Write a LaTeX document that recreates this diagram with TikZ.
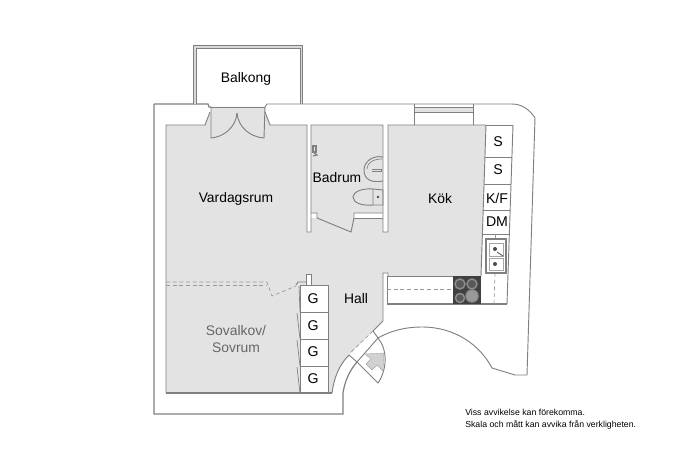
\documentclass[tikz,border=0pt]{standalone}
\usepackage{fontspec}
\setmainfont{Liberation Sans}
\definecolor{floor}{HTML}{E3E3E3}
\definecolor{wall}{HTML}{808080}
\definecolor{band}{HTML}{D8D8D8}
\tikzset{
  wl/.style={draw=wall,line width=0.7pt},
  thin wl/.style={draw=wall,line width=0.5pt},
  dash wl/.style={draw=wall!80,line width=0.5pt,dash pattern=on 3pt off 2pt},
  lbl/.style={font=\fontsize{10.4}{12}\selectfont,text=black,align=center,inner sep=0pt},
  cab/.style={font=\fontsize{10.6}{12}\selectfont,text=black,inner sep=0pt},
}
\begin{document}
\begin{tikzpicture}[x=0.75pt,y=-0.75pt]
\useasboundingbox (0,0) rectangle (690,460);
% floor
\fill[floor] (166,125) -- (205,125) -- (211,112) -- (211,107) -- (265,107) -- (265,112) -- (270,125) -- (307,125) -- (307,232) -- (311,232) -- (311,125) -- (383,125) -- (383,232) -- (388,232) -- (388,125) -- (486,125) -- (481,276) -- (388,276) -- (388,273) -- (383,273) -- (383,321) -- (349,355) .. controls (339,365) and (334,378) .. (332,393) -- (166,393) -- cycle;
\fill[white] (307,125) rectangle (311,232);
\fill[white] (383,125) rectangle (388,232);
\fill[floor] (354,218) rectangle (383,213);
\fill[white] (311,213) rectangle (317,218);
\fill[white] (354,213) rectangle (383,218);
\fill[white] (317,218) -- (351,232) -- (311,232) -- (311,218) -- cycle;
\fill[floor] (311,218) -- (317,218) -- (351,232) -- (354,218) -- (383,218) -- (383,232) -- (311,232) -- cycle;
\fill[white] (307,125) rectangle (311,232);
\fill[white] (383,125) rectangle (388,232);
% outer shell
\draw[wl,line width=0.9pt] (154,104) -- (208,104) -- (209,107) -- (211,107);
\draw[wl,line width=0.9pt] (154,104) -- (154,414) -- (343,414) -- (343,393) .. controls (345,380) and (350,370) .. (357,362);
\draw[wl] (265,107) -- (267,104) -- (512,104) .. controls (522,104) and (530,110) .. (535,118);
\draw[wl] (535,118) -- (527,375) -- (515,375) -- (492,368) .. controls (480,345) and (455,327) .. (422,327) .. controls (405,327) and (390,331) .. (378,338);
% balcony
\fill[band,even odd rule] (193,104) -- (193,45) -- (302,45) -- (302,104) -- (300,104) -- (300,48) -- (196,48) -- (196,104) -- cycle;
\draw[wl] (193,104) -- (193,45) -- (302,45) -- (302,104);
\draw[wl] (196,104) -- (196,48) -- (300,48) -- (300,104);
% vardagsrum + niche
\draw[wl] (211,107) -- (265,107);
\draw[wl] (166,393) -- (166,125) -- (205,125) -- (210,112);
\draw[wl] (265,112) -- (270,125) -- (307,125) -- (307,232) -- (311,232) -- (311,125) -- (383,125) -- (383,232) -- (388,232) -- (388,125) -- (486,125);
\draw[wl] (211,107) -- (211,138) .. controls (224,137) and (236,127) .. (237,113);
\draw[wl] (265,107) -- (264,138) .. controls (250,137) and (238,127) .. (237,113);
% bathroom door
\draw[wl] (311,213) -- (317,213) -- (317,218) -- (351,232) -- (354,218) -- (354,213) -- (383,213);
\draw[wl] (354,218) -- (383,218);
% bathroom fixtures
\draw[wl] (383,157) .. controls (372,155) and (364,162) .. (364,170) .. controls (364,180) and (372,183) .. (383,181);
\draw[thin wl] (367,169) .. controls (367,163) and (373,159) .. (382,159);
\draw[wl] (372,169) -- (381,169) -- (381,171) -- (372,171);
\draw[wl] (373,189) .. controls (362,188) and (353,192) .. (353,197) .. controls (353,203) and (362,206) .. (373,205) -- (373,189);
\draw[wl] (373,189) -- (383,190) -- (383,205) -- (373,205);
\fill[black!70] (378,197) circle (1pt);
% shower
\draw[wl,line width=0.9pt] (313,146) -- (313,152) -- (316,152) -- (316,146) -- cycle;
\draw[wl,line width=0.9pt] (313,152) -- (317,155) -- (313,156);
% kitchen window
\draw[wl] (414,104) -- (414,125);
\draw[wl] (473,104) -- (473,125);
\fill[floor] (415,108) rectangle (473,112);
\draw[wl] (414,107) -- (473,107);
\draw[wl] (414,112) -- (473,112);
% kitchen cabinets
\draw[wl] (486,125) -- (481,276);
\draw[wl] (513,125) -- (507,304);
\draw[wl] (486,125) -- (513,125);
\draw[thin wl] (485,157) -- (512,157);
\draw[thin wl] (484,184) -- (511,184);
\draw[thin wl] (483,210) -- (510,210);
\draw[thin wl] (482,234) -- (510,234);
\draw[wl] (388,276) -- (481,276);
\draw[wl,line width=0.9pt] (387,304) -- (507,304);
\draw[wl] (387,276) -- (387,304);
\draw[dash wl] (387,289) -- (453,289);
\draw[dash wl] (495,234) -- (495,240);
\draw[dash wl] (495,273) -- (494,304);
% stove
\fill[black!75] (453,276) rectangle (481,304);
\foreach \a/\b/\r in {460/284/5,472/284/5,460/298/4.5}{
  \draw[black!45,line width=1.1pt,fill=black!65] (\a,\b) circle ({\r*0.75pt});
}
\draw[black!45,line width=1.1pt,fill=black!40] (472,296) circle (4.5pt);
% sink
\draw[wall,fill=white,line width=1.4pt] (486,239) rectangle (506,273);
\draw[wall!70,line width=0.7pt] (489,243) rectangle (503,256);
\draw[wall!70,line width=0.7pt] (489,258) rectangle (503,270);
\fill[black!70] (495,249) circle (1.5pt);
\fill[black!70] (495,264) circle (1.5pt);
\draw[black!70,line width=0.6pt] (497,252) -- (503,256);
% hall walls
\draw[wl] (388,276) -- (388,273) -- (383,273) -- (383,321) -- (373,331);
% closet
\draw[wl,fill=white] (300,285) rectangle (328,393);
\draw[thin wl] (300,312) -- (328,312);
\draw[thin wl] (300,339) -- (328,339);
\draw[thin wl] (300,366) -- (328,366);
\draw[thin wl] (299,286) -- (300,312);
\draw[thin wl] (297,313) -- (300,339);
\draw[thin wl] (297,340) -- (300,366);
\draw[thin wl] (297,367) -- (300,393);
\draw[wl,fill=white] (306,285) -- (306,274) -- (311,274) -- (311,285);
\draw[wl,line width=0.9pt] (166,393) -- (332,393);
% alcove dashes
\draw[dash wl] (166,282) -- (267,282) -- (272,296) -- (296,286);
\draw[dash wl] (166,285) -- (267,285);
\draw[wl] (296,285) -- (298,282) -- (306,282);
% entrance
\draw[wl] (349,355) .. controls (339,365) and (334,378) .. (332,393);
\draw[wl] (349,355) -- (357,362) -- (378,338) -- (373,331);
\draw[dash wl] (351,352) -- (373,331);
\draw[wl] (357,362) -- (378,383) .. controls (387,370) and (388,350) .. (378,338);
\fill[black!18,draw=black!35,line width=0.3pt] (384,353) -- (365,354) -- (371,359) -- (366,364) -- (372,370) -- (377,365) -- (383,371) -- cycle;
% labels
\node[lbl] (balkong) at (246,79) {Balkong};
\node[lbl] (vardagsrum) at (236,198.5) {Vardagsrum};
\node[lbl] (badrum) at (337,178) {Badrum};
\node[lbl] (kok) at (440,198.5) {Kök};
\node[lbl] (hall) at (356,299) {Hall};
\node[lbl,text=black!60,font=\fontsize{10.4}{12.2}\selectfont] (sov) at (236,339) {Sovalkov/\\Sovrum};
\node[cab] (s1) at (498,142) {S};
\node[cab] (s2) at (498,170) {S};
\node[cab] (kf) at (497,198) {K/F};
\node[cab] (dm) at (497,222) {DM};
\node[cab] (g1) at (313,299) {G};
\node[cab] (g2) at (313,326) {G};
\node[cab] (g3) at (313,352) {G};
\node[cab] (g4) at (313,379) {G};
\node[font=\fontsize{6.55}{9}\selectfont,align=left,inner sep=0pt,anchor=north west] (note) at (465,408.5) {Viss avvikelse kan förekomma.\\Skala och mått kan avvika från verkligheten.};
\end{tikzpicture}
\end{document}
